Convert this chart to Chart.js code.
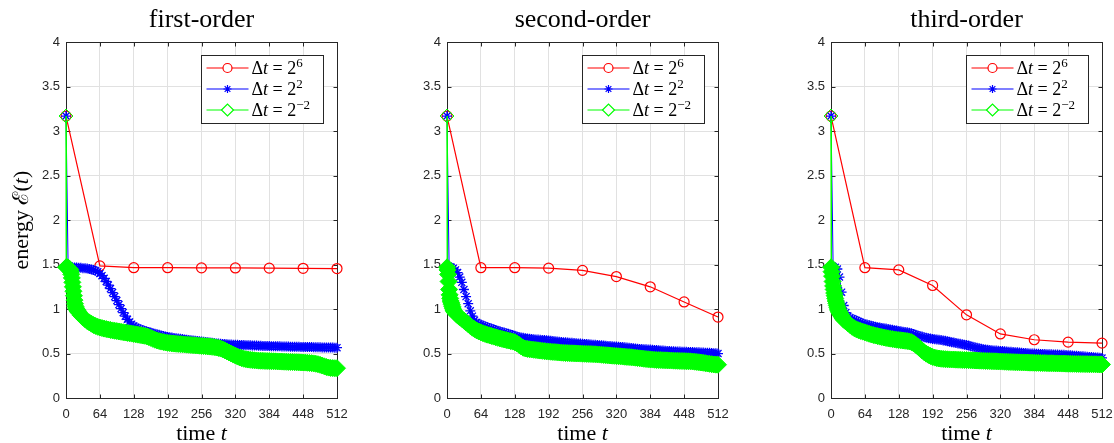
<!DOCTYPE html>
<html>
<head>
<meta charset="utf-8">
<script src="https://cdn.jsdelivr.net/npm/chart.js@4.4.0/dist/chart.umd.min.js"></script>
<style>
  html, body { margin: 0; padding: 0; background: #fff; overflow: hidden; width: 1114px; height: 443px; }
  canvas { position: absolute; top: 0; }
</style>
</head>
<body>
<canvas id="c1" width="403" height="443" style="left:0px"></canvas>
<canvas id="c2" width="351" height="443" style="left:407px"></canvas>
<canvas id="c3" width="351" height="443" style="left:791px"></canvas>
<script>
// panel titles and legend
const titles = ['first-order', 'second-order', 'third-order'];
const legendLabels = ['Δt = 2^6', 'Δt = 2^2', 'Δt = 2^-2'];
const legendExp = ['6', '2', '−2'];

// time grids (dt = 64, dt = 4; dt = 1/4 is shown at 0, 0.25, 1..24, then every 4)
const tRed = [0, 64, 128, 192, 256, 320, 384, 448, 512];
const tBlue = [];
for (let t = 0; t <= 512; t += 4) tBlue.push(t);
const tGreen = [0, 0.25];
for (let t = 1; t <= 24; t++) tGreen.push(t);
for (let t = 28; t <= 512; t += 4) tGreen.push(t);

// energy, dt = 2^6
const red1 = [3.17, 1.485, 1.465, 1.465, 1.463, 1.462, 1.46, 1.458, 1.455];
const red2 = [3.17, 1.465, 1.465, 1.46, 1.435, 1.365, 1.25, 1.08, 0.91];
const red3 = [3.17, 1.465, 1.44, 1.265, 0.935, 0.72, 0.655, 0.628, 0.617];

// energy, dt = 2^2 (t = 0, 4, ..., 512)
const blue1 = [3.17,1.47,1.47,1.47,1.468,1.466,1.465,1.463,1.46,1.458,1.455,1.45,1.445,1.44,1.43,1.42,
  1.40,1.375,1.345,1.31,1.27,1.23,1.185,1.14,1.095,1.05,1.005,0.96,0.92,0.885,0.855,0.83,
  0.81,0.795,0.785,0.775,0.765,0.757,0.75,0.743,0.736,0.729,0.722,0.716,0.71,0.704,0.698,0.692,
  0.687,0.683,0.679,0.675,0.671,0.668,0.665,0.662,0.659,0.656,0.653,0.65,0.647,0.644,0.641,0.638,
  0.635,0.632,0.629,0.626,0.623,0.62,0.617,0.614,0.612,0.61,0.608,0.606,0.604,0.602,0.601,0.60,
  0.599,0.598,0.597,0.596,0.595,0.594,0.593,0.592,0.591,0.59,0.589,0.588,0.587,0.586,0.585,0.585,
  0.584,0.583,0.583,0.582,0.581,0.581,0.58,0.579,0.579,0.578,0.577,0.577,0.576,0.575,0.575,0.574,
  0.574,0.573,0.573,0.572,0.572,0.571,0.571,0.57,0.57,0.569,0.569,0.568,0.568,0.567,0.567,0.566,
  0.566];
const blue2 = [3.17,1.475,1.47,1.46,1.44,1.41,1.36,1.30,1.22,1.14,1.06,0.98,0.92,0.875,0.85,0.835,
  0.825,0.815,0.806,0.797,0.788,0.78,0.772,0.764,0.757,0.75,0.743,0.736,0.729,0.722,0.715,0.708,
  0.70,0.692,0.685,0.68,0.676,0.673,0.67,0.667,0.664,0.661,0.659,0.657,0.655,0.653,0.651,0.649,
  0.647,0.645,0.642,0.639,0.636,0.633,0.63,0.628,0.626,0.624,0.622,0.62,0.618,0.616,0.614,0.612,
  0.61,0.608,0.606,0.604,0.602,0.60,0.598,0.596,0.594,0.592,0.59,0.588,0.586,0.584,0.582,0.58,
  0.578,0.576,0.574,0.572,0.57,0.567,0.564,0.561,0.558,0.556,0.554,0.552,0.55,0.548,0.547,0.546,
  0.545,0.543,0.541,0.539,0.537,0.535,0.533,0.531,0.529,0.527,0.526,0.525,0.524,0.523,0.522,0.521,
  0.52,0.519,0.518,0.517,0.516,0.515,0.514,0.513,0.512,0.511,0.51,0.509,0.508,0.506,0.504,0.502,
  0.50];
const blue3 = [3.17,1.475,1.47,1.45,1.36,1.19,1.04,0.96,0.92,0.90,0.89,0.88,0.87,0.86,0.85,0.84,
  0.83,0.825,0.82,0.813,0.807,0.80,0.796,0.792,0.788,0.784,0.78,0.775,0.77,0.766,0.762,0.758,
  0.754,0.75,0.746,0.742,0.738,0.733,0.727,0.72,0.712,0.704,0.696,0.69,0.684,0.678,0.673,0.668,
  0.664,0.66,0.657,0.654,0.651,0.647,0.643,0.638,0.633,0.628,0.623,0.618,0.613,0.609,0.605,0.60,
  0.595,0.589,0.583,0.577,0.571,0.565,0.559,0.554,0.549,0.545,0.542,0.539,0.537,0.535,0.533,0.531,
  0.529,0.527,0.525,0.523,0.521,0.519,0.517,0.515,0.513,0.511,0.509,0.507,0.505,0.503,0.501,0.50,
  0.499,0.498,0.497,0.496,0.495,0.494,0.493,0.492,0.491,0.49,0.489,0.488,0.487,0.486,0.485,0.484,
  0.482,0.48,0.478,0.476,0.474,0.472,0.47,0.468,0.466,0.464,0.462,0.46,0.458,0.456,0.454,0.452,
  0.45];

// energy, dt = 2^-2 (t = 0, 0.25, 1, 2, ..., 24, 28, 32, ..., 512)
const green1 = [3.17,1.47,
  1.47,1.47,1.468,1.465,1.46,1.455,1.45,1.44,1.42,1.39,1.35,1.30,1.25,1.20,1.15,1.10,1.06,1.03,1.01,1.00,0.99,0.98,0.97,0.96,
  0.93,0.905,0.885,0.865,0.85,0.835,0.82,0.81,0.80,
  0.792,0.786,0.78,0.775,0.77,0.765,0.76,0.756,0.752,0.748,0.744,0.74,0.736,0.732,0.728,0.724,
  0.72,0.716,0.712,0.708,0.704,0.70,0.694,0.686,0.676,0.665,0.655,0.647,0.64,0.634,0.629,0.624,
  0.62,0.617,0.614,0.612,0.61,0.608,0.606,0.604,0.602,0.60,0.598,0.596,0.594,0.592,0.59,0.588,
  0.586,0.584,0.582,0.58,0.578,0.575,0.572,0.568,0.563,0.556,0.547,0.536,0.524,0.512,0.50,0.488,
  0.477,0.466,0.456,0.448,0.441,0.436,0.432,0.429,0.426,0.424,0.422,0.42,0.419,0.418,0.417,0.416,
  0.415,0.414,0.413,0.412,0.411,0.41,0.409,0.408,0.407,0.406,0.405,0.404,0.403,0.402,0.401,0.40,
  0.399,0.398,0.396,0.394,0.392,0.389,0.385,0.38,0.373,0.365,0.356,0.348,0.342,0.338,0.336,0.335,
  0.335];
const green2 = [3.17,1.47,
  1.44,1.39,1.31,1.22,1.16,1.12,1.09,1.07,1.05,1.03,1.01,0.99,0.98,0.97,0.962,0.955,0.948,0.942,0.936,0.93,0.925,0.92,0.915,0.91,
  0.89,0.87,0.85,0.83,0.81,0.79,0.775,0.76,0.748,
  0.738,0.728,0.72,0.712,0.705,0.698,0.69,0.683,0.676,0.67,0.664,0.658,0.652,0.646,0.64,0.634,
  0.627,0.615,0.598,0.58,0.565,0.557,0.552,0.548,0.545,0.542,0.539,0.536,0.533,0.53,0.527,0.524,
  0.522,0.52,0.518,0.516,0.514,0.512,0.51,0.508,0.506,0.505,0.504,0.503,0.502,0.501,0.50,0.499,
  0.498,0.497,0.496,0.495,0.494,0.493,0.492,0.49,0.488,0.486,0.484,0.482,0.48,0.478,0.476,0.474,
  0.472,0.47,0.468,0.466,0.464,0.462,0.46,0.458,0.456,0.453,0.45,0.447,0.444,0.441,0.438,0.436,
  0.434,0.432,0.43,0.428,0.427,0.426,0.425,0.424,0.423,0.422,0.421,0.42,0.419,0.418,0.417,0.416,
  0.415,0.414,0.413,0.412,0.41,0.408,0.405,0.402,0.399,0.396,0.392,0.388,0.384,0.38,0.377,0.375,
  0.374];
const green3 = [3.17,1.47,
  1.42,1.37,1.31,1.26,1.22,1.18,1.15,1.12,1.09,1.065,1.04,1.02,1.00,0.985,0.97,0.96,0.95,0.94,0.93,0.92,0.91,0.90,0.89,0.88,
  0.86,0.84,0.82,0.80,0.785,0.772,0.762,0.754,0.746,
  0.738,0.73,0.722,0.715,0.708,0.702,0.696,0.69,0.685,0.68,0.675,0.671,0.667,0.663,0.659,0.655,
  0.652,0.649,0.646,0.643,0.64,0.636,0.628,0.615,0.598,0.578,0.556,0.535,0.515,0.498,0.484,0.472,
  0.462,0.454,0.448,0.444,0.441,0.439,0.437,0.435,0.434,0.433,0.432,0.431,0.43,0.429,0.428,0.427,
  0.426,0.425,0.424,0.423,0.422,0.421,0.42,0.419,0.418,0.417,0.416,0.415,0.414,0.413,0.412,0.411,
  0.41,0.409,0.408,0.407,0.406,0.405,0.404,0.403,0.402,0.401,0.40,0.40,0.399,0.398,0.397,0.397,
  0.396,0.395,0.395,0.394,0.393,0.393,0.392,0.391,0.391,0.39,0.389,0.389,0.388,0.387,0.387,0.386,
  0.385,0.385,0.384,0.384,0.383,0.383,0.382,0.382,0.381,0.381,0.38,0.38,0.379,0.379,0.378,0.378,
  0.377];

const SERIF = '"Liberation Serif", "DejaVu Serif", serif';
const SANS = '"Liberation Sans", Arial, sans-serif';
const INK = '#262626';

function pairs(xs, ys) {
  return ys.map((y, i) => ({ x: xs[i], y: y }));
}

// draws a run of text pieces with their own fonts, left to right
function drawParts(ctx, parts, x, y) {
  parts.forEach(p => {
    ctx.font = p.font;
    ctx.fillText(p.text, x, y + (p.dy || 0));
    x += ctx.measureText(p.text).width;
  });
}
function partsWidth(ctx, parts) {
  let w = 0;
  parts.forEach(p => { ctx.font = p.font; w += ctx.measureText(p.text).width; });
  return w;
}

// matlab style box, inner ticks, axis labels and legend
const matlabLook = {
  id: 'matlabLook',
  beforeDatasetsDraw(chart) {
    const { ctx, chartArea: a, scales } = chart;
    ctx.save();
    ctx.strokeStyle = INK;
    ctx.lineWidth = 1;
    const L = Math.round(a.left) + 0.5, R = Math.round(a.right) + 0.5;
    const T = Math.round(a.top) + 0.5, B = Math.round(a.bottom) + 0.5;
    ctx.strokeRect(L, T, R - L, B - T);
    ctx.beginPath();
    scales.x.ticks.forEach(t => {
      const px = Math.round(scales.x.getPixelForValue(t.value)) + 0.5;
      ctx.moveTo(px, B); ctx.lineTo(px, B - 4);
      ctx.moveTo(px, T); ctx.lineTo(px, T + 4);
    });
    scales.y.ticks.forEach(t => {
      const py = Math.round(scales.y.getPixelForValue(t.value)) + 0.5;
      ctx.moveTo(L, py); ctx.lineTo(L + 4, py);
      ctx.moveTo(R, py); ctx.lineTo(R - 4, py);
    });
    ctx.stroke();
    ctx.restore();
  },
  afterDraw(chart, args, opts) {
    const { ctx, chartArea: a } = chart;
    const reg = '22px ' + SERIF, ita = 'italic 22px ' + SERIF;
    ctx.save();
    ctx.fillStyle = '#000';
    ctx.textBaseline = 'alphabetic';
    ctx.textAlign = 'left';

    // x axis label
    const xParts = [{ text: 'time ', font: reg }, { text: 't', font: ita }];
    drawParts(ctx, xParts, (a.left + a.right) / 2 - partsWidth(ctx, xParts) / 2, 440);

    // y axis label
    if (opts.yTitle) {
      const yParts = [{ text: 'energy ', font: reg }, { text: 'ℰ', font: reg }, { text: '(', font: reg },
        { text: 't', font: ita }, { text: ')', font: reg }];
      ctx.save();
      ctx.translate(28, (a.top + a.bottom) / 2);
      ctx.rotate(-Math.PI / 2);
      drawParts(ctx, yParts, -partsWidth(ctx, yParts) / 2, 0);
      ctx.restore();
    }

    // legend
    const w = 122, h = 68;
    const bx = Math.round(a.right - 14 - w) + 0.5, by = Math.round(a.top + 13) + 0.5;
    ctx.fillStyle = '#fff';
    ctx.fillRect(bx, by, w, h);
    ctx.strokeStyle = INK;
    ctx.lineWidth = 1;
    ctx.strokeRect(bx, by, w, h);
    const mr = [4.5, 4, 6];
    chart.data.datasets.forEach((ds, i) => {
      const cy = by + 12.5 + i * 21;
      ctx.strokeStyle = ds.borderColor;
      ctx.lineWidth = 1.2;
      ctx.beginPath();
      ctx.moveTo(bx + 5, cy);
      ctx.lineTo(bx + 47, cy);
      ctx.stroke();
      ctx.fillStyle = '#fff';
      Chart.helpers.drawPoint(ctx, { pointStyle: ds.pointStyle, radius: mr[i], borderWidth: 1.2, rotation: 0 }, bx + 26, cy);
      ctx.fillStyle = '#000';
      drawParts(ctx, [
        { text: 'Δ', font: '18px ' + SERIF },
        { text: 't', font: 'italic 18px ' + SERIF },
        { text: ' = 2', font: '18px ' + SERIF },
        { text: legendExp[i], font: '13px ' + SERIF, dy: -7 }
      ], bx + 50, cy + 5.5);
    });
    ctx.restore();
  }
};

function makePanel(id, k, red, blue, green, yWidth, yTitle) {
  new Chart(document.getElementById(id), {
    type: 'line',
    data: {
      datasets: [
        {
          label: legendLabels[0], data: pairs(tRed, red),
          borderColor: '#ff0000', borderWidth: 1.2,
          pointStyle: 'circle', pointRadius: 5, pointBorderWidth: 1.2,
          pointBorderColor: '#ff0000', pointBackgroundColor: 'rgba(0,0,0,0)',
          order: 3, clip: false
        },
        {
          label: legendLabels[1], data: pairs(tBlue, blue),
          borderColor: '#0000ff', borderWidth: 1,
          pointStyle: 'star', pointRadius: 5, pointBorderWidth: 1.3,
          pointBorderColor: '#0000ff', pointBackgroundColor: '#0000ff',
          order: 2, clip: false
        },
        {
          label: legendLabels[2], data: pairs(tGreen, green),
          borderColor: '#00ff00', borderWidth: 1,
          pointStyle: 'rectRot',
          pointRadius: c => c.dataIndex === 0 ? 7 : 8.5,
          pointBorderWidth: 1,
          pointBorderColor: '#00ff00',
          pointBackgroundColor: c => c.dataIndex === 0 ? 'rgba(0,0,0,0)' : '#00ff00',
          order: 1, clip: false
        }
      ]
    },
    options: {
      responsive: false,
      animation: false,
      events: [],
      layout: { padding: { left: 0, right: yWidth, top: 0, bottom: 0 } },
      plugins: {
        legend: { display: false },
        tooltip: { enabled: false },
        title: {
          display: true, text: titles[k], color: '#000', fullSize: false,
          font: { family: SERIF, size: 26, weight: 'normal' },
          padding: { top: 5, bottom: 6 }
        },
        matlabLook: { yTitle: yTitle }
      },
      scales: {
        x: {
          type: 'linear', min: 0, max: 512,
          border: { display: false },
          grid: { color: '#e1e1e1', drawTicks: false },
          ticks: { stepSize: 64, padding: 9, color: INK, maxRotation: 0, autoSkip: false,
                   font: { family: SANS, size: 13 } },
          afterFit: s => { s.height = 45; }
        },
        y: {
          type: 'linear', min: 0, max: 4,
          border: { display: false },
          grid: { color: '#e1e1e1', drawTicks: false },
          ticks: { stepSize: 0.5, padding: 6, color: INK, font: { family: SANS, size: 13 },
                   callback: v => String(v) },
          afterFit: s => { s.width = yWidth; }
        }
      }
    },
    plugins: [matlabLook]
  });
}

makePanel('c1', 0, red1, blue1, green1, 66, true);
makePanel('c2', 1, red2, blue2, green2, 40, false);
makePanel('c3', 2, red3, blue3, green3, 40, false);
</script>
</body>
</html>
